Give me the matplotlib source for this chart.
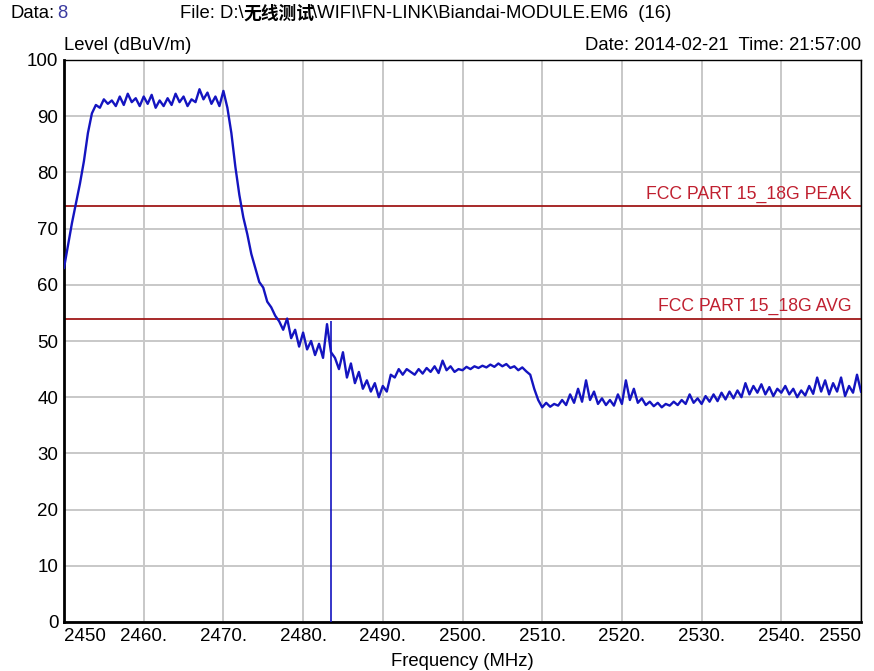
import numpy as np
import matplotlib
matplotlib.use("Agg")
import matplotlib.pyplot as plt

# trace, 0.5 MHz steps from 2450 to 2550
freq_start = 2450.0
freq_step = 0.5
level = [
    63, 67, 71, 74.5, 78, 82, 87, 90.5, 92, 91.5,
    93, 92.2, 92.8, 91.8, 93.5, 92, 94, 92.5, 93.2, 91.8,
    93.5, 92.2, 93.8, 91.5, 92.8, 91.8, 93.2, 92, 94, 92.5,
    93.5, 91.8, 93, 92.5, 94.8, 93, 94.2, 92.2, 93.5, 91.8,
    94.5, 91.5, 87, 81, 76, 72, 69, 65.5, 63, 60.5,
    59.5, 57, 56, 54.5, 53.5, 52, 54, 50.5, 52, 49,
    51.5, 48.5, 50, 47.5, 49.5, 47, 53, 48, 47, 45,
    48, 43.5, 46, 42.5, 44.5, 41.5, 43, 41, 42.5, 40,
    42, 41, 44, 43.5, 45, 44, 45, 44.5, 44, 45,
    44.2, 45.2, 44.5, 45.5, 44.3, 46.5, 44.8, 45.5, 44.5, 45,
    44.8, 45.4, 45, 45.5, 45.2, 45.6, 45.3, 45.8, 45.4, 46,
    45.5, 45.9, 45.2, 45.5, 44.8, 45.3, 44.6, 44, 41.5, 39.5,
    38.2, 39, 38.3, 38.8, 38.5, 39.5, 38.6, 40.5, 39, 41.5,
    39.2, 43, 39.5, 41, 38.8, 39.8, 38.6, 39.5, 38.5, 40.5,
    38.8, 43, 39.5, 41.5, 39, 39.8, 38.6, 39.2, 38.4, 39,
    38.2, 38.8, 38.5, 39.2, 38.6, 39.5, 38.8, 40.5, 39, 39.8,
    38.8, 40.2, 39.2, 40.5, 39.3, 40.8, 39.6, 41, 39.8, 41.2,
    40, 42.5, 40.5, 42, 40.8, 42.3, 40.5, 41.8, 40.2, 41.5,
    40.8, 42, 40.5, 41.5, 40, 41.2, 40.3, 42, 40.6, 43.5,
    41, 43, 40.5, 42.5, 41, 43.5, 40.2, 42, 40.8, 44,
    41,
]
freq = freq_start + freq_step * np.arange(len(level))

# dropout at the band edge
spike_freq = 2483.5
spike_top = 53.5

limit_peak = 74
limit_avg = 54
limit_names = ["FCC PART 15_18G PEAK", "FCC PART 15_18G AVG"]

xticks = [2450, 2460, 2470, 2480, 2490, 2500, 2510, 2520, 2530, 2540, 2550]
xticklabels = ["2450", "2460.", "2470.", "2480.", "2490.", "2500.",
               "2510.", "2520.", "2530.", "2540.", "2550"]
yticks = list(range(0, 101, 10))

fam = ["Liberation Sans", "Noto Sans CJK SC"]
plt.rcParams["font.family"] = fam

fig = plt.figure(figsize=(8.74, 6.71), dpi=100)
ax = fig.add_axes([64 / 874, 49 / 671, 797 / 874, 562 / 671])

ax.plot(freq, level, color="#1414c0", lw=1.7, zorder=3)
ax.vlines(spike_freq, 0, spike_top, color="#1414c0", lw=1.2, zorder=3)

red = "#a01818"
ax.axhline(limit_peak, color=red, lw=1.3, zorder=2)
ax.axhline(limit_avg, color=red, lw=1.3, zorder=2)
ax.text(2548.8, limit_peak + 0.6, limit_names[0], color="#c02030",
        fontsize=12.7, ha="right", va="bottom")
ax.text(2548.8, limit_avg + 0.6, limit_names[1], color="#c02030",
        fontsize=12.7, ha="right", va="bottom")

ax.set_xlim(2450, 2550)
ax.set_ylim(0, 100)
ax.set_xticks(xticks)
ax.set_xticklabels(xticklabels)
ax.set_yticks(yticks)
ax.tick_params(length=0, labelsize=13.5, pad=4)
labs = ax.get_xticklabels()
labs[0].set_ha("left")
labs[-1].set_ha("right")
ax.grid(True, color="#c8c8c8", lw=1.4)
ax.set_axisbelow(True)
for s in ["left", "bottom"]:
    ax.spines[s].set_linewidth(2.0)
for s in ["top", "right"]:
    ax.spines[s].set_linewidth(1.0)

ax.set_xlabel("Frequency (MHz)", fontsize=13.3, labelpad=6)

fs = 13.3
y_top = 1 - 14 / 671
fig.text(10 / 874, y_top, "Data:", fontsize=fs, va="center")
fig.text(57 / 874, y_top, "8", fontsize=fs, va="center", color="#3a3aa0")
fig.text(180 / 874, y_top, "File: D:\\", fontsize=fs, va="center")
fig.text(243 / 874, y_top, "无线测试", fontsize=fs - 0.5, va="center",
         fontweight="bold", family=["Noto Sans CJK SC"])
fig.text(312 / 874, y_top, "\\WIFI\\FN-LINK\\Biandai-MODULE.EM6  (16)",
         fontsize=fs, va="center")
fig.text(64 / 874, 1 - 46 / 671, "Level (dBuV/m)", fontsize=fs, va="center")
fig.text(861 / 874, 1 - 46 / 671, "Date: 2014-02-21  Time: 21:57:00",
         fontsize=fs, va="center", ha="right")

fig.savefig("out.png", dpi=100)
